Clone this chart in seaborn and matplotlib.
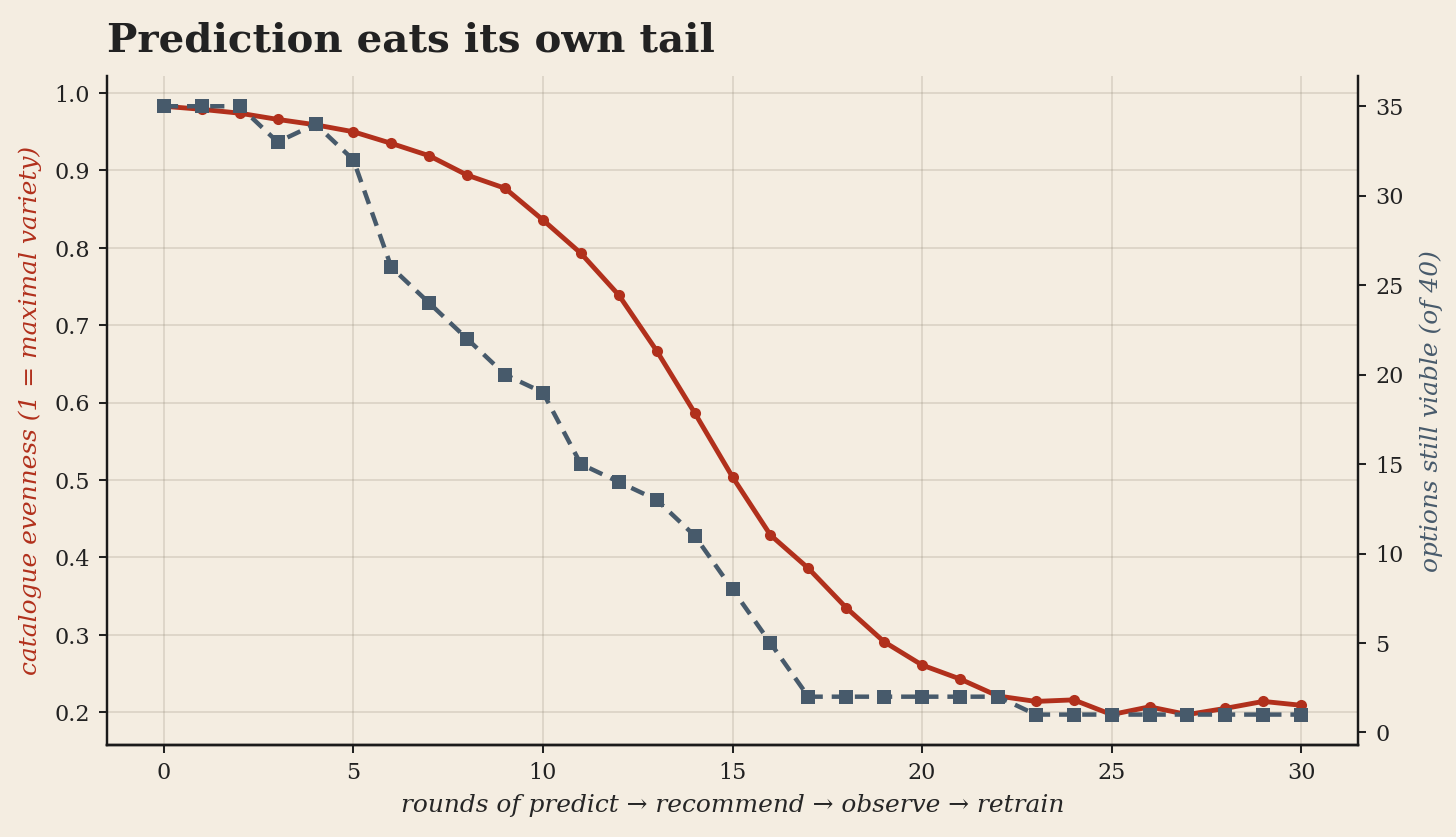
import numpy as np
import pandas as pd
import matplotlib
matplotlib.use('Agg')
import matplotlib.pyplot as plt
import seaborn as sns

# rounds of the feedback loop
rounds = list(range(31))

# catalogue evenness (left axis)
evenness = [0.983, 0.979, 0.974, 0.966, 0.959, 0.950, 0.935, 0.919, 0.894, 0.877,
            0.836, 0.793, 0.739, 0.667, 0.587, 0.504, 0.429, 0.386, 0.335, 0.291,
            0.261, 0.243, 0.221, 0.214, 0.216, 0.197, 0.207, 0.197, 0.205, 0.214,
            0.209]

# options still viable out of 40 (right axis)
viable = [35, 35, 35, 33, 34, 32, 26, 24, 22, 20,
          19, 15, 14, 13, 11, 8, 5, 2, 2, 2,
          2, 2, 2, 1, 1, 1, 1, 1, 1, 1,
          1]

df = pd.DataFrame({'round': rounds, 'evenness': evenness, 'viable': viable})

bg = '#f4ede1'
red = '#b1301c'
slate = '#475a6b'

sns.set_theme(style='whitegrid', rc={
    'figure.facecolor': bg,
    'axes.facecolor': bg,
    'savefig.facecolor': bg,
    'axes.edgecolor': '#1a1a1a',
    'grid.color': '#8a7f70',
    'grid.alpha': 0.25,
    'grid.linewidth': 0.8,
    'xtick.bottom': True,
    'ytick.left': True,
})
plt.rcParams['font.family'] = ['DejaVu Serif']
plt.rcParams['text.color'] = '#222222'
plt.rcParams['xtick.color'] = '#222222'
plt.rcParams['ytick.color'] = '#222222'

fig, ax = plt.subplots(figsize=(10, 5.75))
fig.subplots_adjust(left=0.0735, right=0.9327, top=0.9092, bottom=0.1099)

sns.lineplot(data=df, x='round', y='evenness', ax=ax, color=red,
             linewidth=2.4, marker='o', markersize=5.5, markeredgewidth=0)

ax2 = ax.twinx()
sns.lineplot(data=df, x='round', y='viable', ax=ax2, color=slate,
             linewidth=2.2, linestyle=(0, (3.2, 2.0)), marker='s',
             markersize=6.5, markeredgewidth=0)
ax2.grid(False)

ax.set_xticks([0, 5, 10, 15, 20, 25, 30])
ax.set_yticks([0.2, 0.3, 0.4, 0.5, 0.6, 0.7, 0.8, 0.9, 1.0])
ax2.set_yticks([0, 5, 10, 15, 20, 25, 30, 35])

ax.set_xlabel('rounds of predict \u2192 recommend \u2192 observe \u2192 retrain',
              fontsize=12.3, style='italic', labelpad=5)
ax.set_ylabel('catalogue evenness (1 = maximal variety)', fontsize=12.3,
              style='italic', color=red, labelpad=6)
ax2.set_ylabel('options still viable (of 40)', fontsize=12.3,
               style='italic', color=slate, labelpad=8)

for a in (ax, ax2):
    a.tick_params(labelsize=11, length=4, width=1, pad=4.5)
    a.spines['top'].set_visible(False)
    for s in a.spines.values():
        s.set_linewidth(1.2)
ax.spines['right'].set_visible(False)
ax2.spines['left'].set_visible(False)
ax2.tick_params(axis='y', right=True)

ax.set_title('Prediction eats its own tail', loc='left', fontsize=20,
             fontweight='bold', pad=12)

fig.savefig('out.png', dpi=145.6)
